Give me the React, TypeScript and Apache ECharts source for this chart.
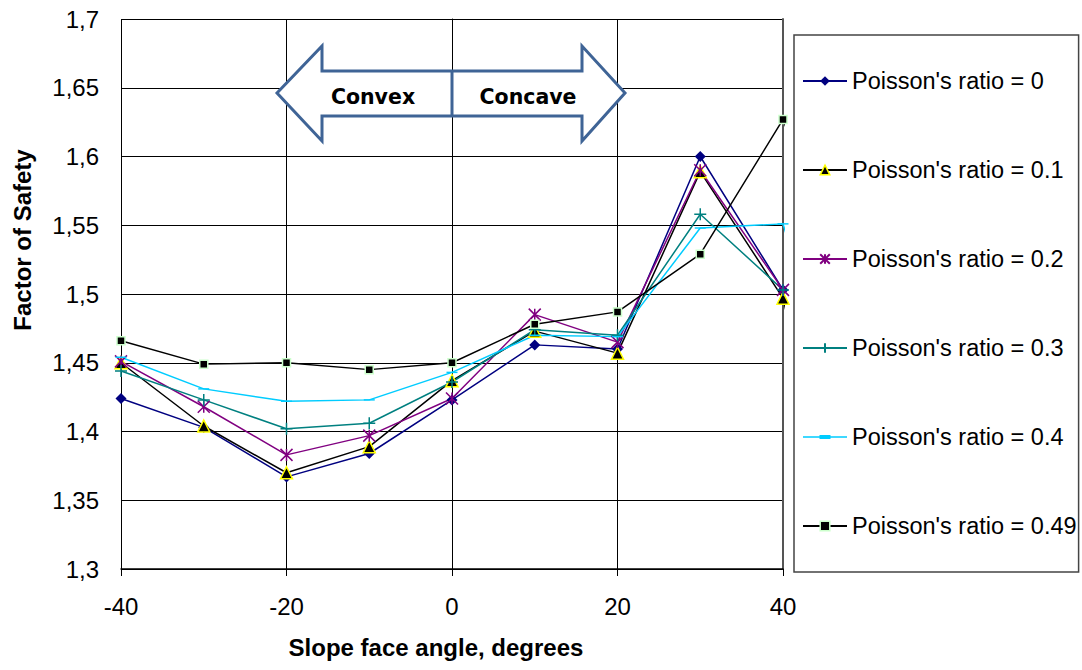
import React, { useEffect, useRef } from "react";
import * as echarts from "echarts";

const xValues = [-40, -30, -20, -10, 0, 10, 20, 30, 40, 50];
const nu0 = [1.424, 1.403, 1.367, 1.384, 1.423, 1.463, 1.46, 1.6, 1.503, 1.22];
const nu01 = [1.45, 1.404, 1.37, 1.389, 1.437, 1.473, 1.457, 1.589, 1.497, 1.24];
const nu02 = [1.451, 1.418, 1.383, 1.397, 1.424, 1.485, 1.465, 1.59, 1.503, 1.22];
const nu03 = [1.444, 1.423, 1.402, 1.406, 1.436, 1.474, 1.47, 1.558, 1.503, 1.31];
const nu04 = [1.454, 1.431, 1.422, 1.423, 1.443, 1.47, 1.469, 1.548, 1.551, 1.355];
const nu049 = [1.466, 1.449, 1.45, 1.445, 1.45, 1.478, 1.487, 1.529, 1.627, 1.465];

const seriesNames = [
  "Poisson's ratio = 0",
  "Poisson's ratio = 0.1",
  "Poisson's ratio = 0.2",
  "Poisson's ratio = 0.3",
  "Poisson's ratio = 0.4",
  "Poisson's ratio = 0.49",
];

const xTitle = "Slope face angle, degrees";
const yTitle = "Factor of Safety";

const FONT = "Liberation Sans, Arial, sans-serif";
const ARROW = "#3F6496";
const DASH = "path://M0,0H11V4H0Z";
const DASH_LEGEND = "path://M0,5.25H44V6.75H0Z M16.5,4H27.5V8H16.5Z";

const toPairs = (ys: number[]) => xValues.map((x, i) => [x, ys[i]]);

export default function App() {
  const ref = useRef<HTMLDivElement>(null);
  useEffect(() => {
    if (!ref.current) return;
    const chart = echarts.init(ref.current, null, { renderer: "svg" });
    const common = { type: "line", clip: false, z: 3 };
    const triStyle = { color: "#000", borderColor: "#FFFF00", borderWidth: 1.5 };
    const sqStyle = { color: "#000", borderColor: "#CCFFCC", borderWidth: 1.5 };
    const option: any = {
      animation: false,
      backgroundColor: "#fff",
      grid: { left: 121, top: 19, right: 299, bottom: 101 },
      xAxis: {
        type: "value",
        min: -40,
        max: 40,
        interval: 20,
        axisLine: { show: true, onZero: false, lineStyle: { color: "#000", width: 1.5 } },
        axisTick: { show: true, length: 7, lineStyle: { color: "#000" } },
        axisLabel: { fontSize: 24, color: "#000", fontFamily: FONT, margin: 25 },
        splitLine: { show: true, lineStyle: { color: "#000", width: 1 } },
      },
      yAxis: [
        {
          type: "value",
          min: 1.3,
          max: 1.7,
          interval: 0.05,
          axisLine: { show: true, lineStyle: { color: "#000", width: 1 } },
          axisTick: { show: false },
          axisLabel: {
            fontSize: 24,
            color: "#000",
            fontFamily: FONT,
            margin: 22,
            formatter: (v: number) => String(+v.toFixed(2)).replace(".", ","),
          },
          splitLine: { show: true, lineStyle: { color: "#000", width: 1 } },
        },
        {
          type: "value",
          position: "right",
          min: 1.3,
          max: 1.7,
          interval: 0.05,
          axisLine: { show: true, lineStyle: { color: "#555", width: 2 } },
          axisTick: { show: false },
          axisLabel: { show: false },
          splitLine: { show: false },
        },
      ],
      legend: {
        orient: "vertical",
        left: 794,
        top: 35,
        padding: [34, 2, 34, 8],
        itemGap: 65,
        itemWidth: 44,
        itemHeight: 12,
        backgroundColor: "#fff",
        borderColor: "#444",
        borderWidth: 1.5,
        selectedMode: false,
        z: 100,
        textStyle: { fontSize: 23.5, fontFamily: FONT, color: "#000", lineHeight: 24 },
        data: [
          { name: seriesNames[0] },
          { name: seriesNames[1], itemStyle: triStyle },
          { name: seriesNames[2] },
          { name: seriesNames[3] },
          { name: seriesNames[4], icon: DASH_LEGEND },
          { name: seriesNames[5], itemStyle: sqStyle },
        ],
      },
      series: [
        {
          ...common,
          name: seriesNames[0],
          data: toPairs(nu0),
          color: "#000080",
          symbol: "diamond",
          symbolSize: 11,
          lineStyle: { width: 1.5, color: "#000080" },
          itemStyle: { color: "#000080" },
        },
        {
          ...common,
          name: seriesNames[1],
          data: toPairs(nu01),
          color: "#000",
          symbol: "triangle",
          symbolSize: 12,
          lineStyle: { width: 1.5, color: "#000" },
          itemStyle: triStyle,
        },
        {
          ...common,
          name: seriesNames[2],
          data: toPairs(nu02),
          color: "#800080",
          symbol: "path://M0,0L10,10M10,0L0,10M5,0L5,10",
          symbolSize: 12,
          lineStyle: { width: 1.5, color: "#800080" },
          itemStyle: { color: "#800080", borderColor: "#800080", borderWidth: 1.5 },
        },
        {
          ...common,
          name: seriesNames[3],
          data: toPairs(nu03),
          color: "#008080",
          symbol: "path://M5,0L5,10M0,5L10,5",
          symbolSize: 12,
          lineStyle: { width: 1.5, color: "#008080" },
          itemStyle: { color: "#008080", borderColor: "#008080", borderWidth: 1.5 },
        },
        {
          ...common,
          name: seriesNames[4],
          data: toPairs(nu04),
          color: "#00CCFF",
          symbol: DASH,
          symbolKeepAspect: true,
          symbolSize: [11, 4],
          lineStyle: { width: 1.5, color: "#00CCFF" },
          itemStyle: { color: "#00CCFF" },
        },
        {
          ...common,
          name: seriesNames[5],
          data: toPairs(nu049),
          color: "#000",
          symbol: "rect",
          symbolSize: 8,
          lineStyle: { width: 1.5, color: "#000" },
          itemStyle: sqStyle,
        },
      ],
      graphic: [
        { type: "rect", z: 50, shape: { x: 790, y: 0, width: 292, height: 585 }, style: { fill: "#fff" } },
        { type: "rect", z: 50, shape: { x: 800, y: 585, width: 282, height: 85 }, style: { fill: "#fff" } },
        {
          type: "polygon",
          z: 60,
          shape: {
            points: [
              [277, 93],
              [322, 46],
              [322, 71],
              [582, 71],
              [582, 46],
              [625, 93],
              [582, 141],
              [582, 116],
              [322, 116],
              [322, 141],
            ],
          },
          style: { fill: "#fff", stroke: ARROW, lineWidth: 3, lineJoin: "miter" },
        },
        { type: "line", z: 61, shape: { x1: 452, y1: 71, x2: 452, y2: 116 }, style: { stroke: ARROW, lineWidth: 3 } },
        {
          type: "text",
          z: 62,
          x: 373,
          y: 97,
          style: { text: "Convex", fill: "#000", font: "bold 20.5px 'DejaVu Sans', sans-serif", align: "center", verticalAlign: "middle" },
        },
        {
          type: "text",
          z: 62,
          x: 528,
          y: 97,
          style: { text: "Concave", fill: "#000", font: "bold 20.5px 'DejaVu Sans', sans-serif", align: "center", verticalAlign: "middle" },
        },
        {
          type: "text",
          z: 62,
          x: 436,
          y: 647,
          style: { text: xTitle, fill: "#000", font: `bold 24px ${FONT}`, align: "center", verticalAlign: "middle" },
        },
        {
          type: "text",
          z: 62,
          x: 22,
          y: 240,
          rotation: Math.PI / 2,
          style: { text: yTitle, fill: "#000", font: `bold 24px ${FONT}`, align: "center", verticalAlign: "middle" },
        },
      ],
    };
    chart.setOption(option);
    return () => chart.dispose();
  }, []);
  return <div ref={ref} style={{ width: 1082, height: 670, position: "absolute", left: 0, top: 0 }} />;
}
